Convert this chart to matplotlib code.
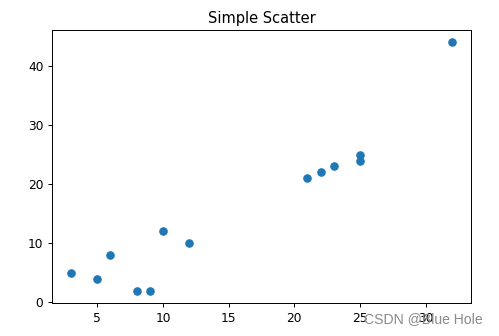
import matplotlib
matplotlib.use("Agg")
import matplotlib.pyplot as plt

x = [3, 5, 6, 8, 9, 10, 12, 21, 22, 23, 25, 25, 32]
y = [5, 4, 8, 2, 2, 12, 10, 21, 22, 23, 24, 25, 44]

dpi = 88
fig = plt.figure(figsize=(499 / dpi, 336 / dpi), dpi=dpi)
ax = fig.add_axes([52 / 499, 33 / 336, 419 / 499, 273 / 336])
ax.scatter(x, y)
ax.set_title('Simple Scatter')

# 水印
fig.text(0.968, 0.03, 'CSDN @Blue Hole', ha='right', va='bottom',
         color='#8a8a8a', fontsize=11.5, family=['Liberation Sans', 'DejaVu Sans'])

fig.savefig('out.png', dpi=dpi)
